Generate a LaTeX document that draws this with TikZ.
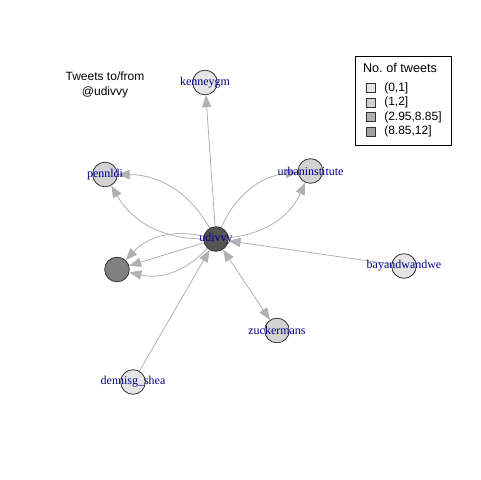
\documentclass[tikz,border=0pt]{standalone}
\usepackage{fontspec}
\setmainfont{Liberation Sans}
\newfontfamily\labfont{Liberation Serif}
\usetikzlibrary{arrows.meta}
\pgfdeclarelayer{bg}
\pgfsetlayers{bg,main}
\definecolor{cA}{HTML}{E5E5E5}
\definecolor{cB}{HTML}{D3D3D3}
\definecolor{cC}{HTML}{808080}
\definecolor{cD}{HTML}{555555}
\definecolor{lA}{HTML}{E5E5E5}
\definecolor{lB}{HTML}{D0D0D0}
\definecolor{lC}{HTML}{B0B0B0}
\definecolor{lD}{HTML}{A0A0A0}
\definecolor{edgec}{HTML}{B0B0B0}
\definecolor{labc}{HTML}{00008B}
\begin{document}
\begin{tikzpicture}[x=0.75pt,y=-0.75pt,
  vtx/.style={circle, draw=black!80, line width=0.6pt, minimum size=18.5pt, inner sep=0pt},
  lab/.style={text=labc, font=\labfont\fontsize{9}{10}\selectfont, inner sep=0pt},
  tip/.style={-{Triangle[length=9pt,width=7pt]}},
  edgeln/.style={draw=edgec, line width=0.6pt, tip},
  sw/.style={rectangle, draw=black!80, line width=0.6pt, minimum size=6.75pt, inner sep=0pt},
  legtxt/.style={anchor=west, inner sep=0pt, font=\fontsize{9}{10}\selectfont}]
\useasboundingbox (0,0) rectangle (480,480);

% title
\node[align=center, font=\fontsize{9}{11.5}\selectfont, inner sep=0pt] (title) at (105,85) {Tweets to/from\\@udivvy};

% vertices
\node[vtx, fill=cD, label={[lab]center:udivvy}] (udivvy) at (216,239) {};
\node[vtx, fill=cA, label={[lab]center:kenneygm}] (kenneygm) at (205,82.5) {};
\node[vtx, fill=cB, label={[lab]center:pennldi}] (pennldi) at (105,174.5) {};
\node[vtx, fill=cB, label={[lab]center:urbaninstitute}] (urban) at (310.5,171) {};
\node[vtx, fill=cC] (unl) at (117,269.5) {};
\node[vtx, fill=cA, label={[lab]center:bayandwandwe}] (bay) at (404,266) {};
\node[vtx, fill=cB, label={[lab]center:zuckermans}] (zuck) at (277,330.5) {};
\node[vtx, fill=cA, label={[lab]center:dennisg\_shea}] (dennis) at (133,382) {};

% edges
\begin{pgfonlayer}{bg}
\draw[edgeln] (udivvy) -- (kenneygm);
\draw[edgeln] (udivvy) to[bend left=30] (pennldi);
\draw[edgeln] (udivvy) to[bend right=30] (pennldi);
\draw[edgeln] (udivvy) to[bend left=30] (urban);
\draw[edgeln] (udivvy) to[bend right=30] (urban);
\draw[edgeln] (udivvy) -- (unl);
\draw[edgeln] (udivvy) to[bend left=30] (unl);
\draw[edgeln] (udivvy) to[bend right=30] (unl);
\draw[edgeln] (bay) -- (udivvy);
\draw[edgeln] (dennis) -- (udivvy);
\draw[draw=edgec, line width=0.6pt, {Triangle[length=9pt,width=7pt]}-{Triangle[length=9pt,width=7pt]}] (udivvy) -- (zuck);
\end{pgfonlayer}

% legend
\node[draw=black, line width=0.6pt, rectangle, minimum width=72pt, minimum height=66.75pt, inner sep=0pt] (legend) at (403,100.5) {};
\node[inner sep=0pt, font=\fontsize{9.5}{11}\selectfont] (legtitle) at (400,68) {No.\ of tweets};
\node[sw, fill=lA] (s1) at (371,88) {};
\node[sw, fill=lB] (s2) at (371,102.5) {};
\node[sw, fill=lC] (s3) at (371,117) {};
\node[sw, fill=lD] (s4) at (371,131.5) {};
\node[legtxt] (t1) at (384,88) {(0,1]};
\node[legtxt] (t2) at (384,102.5) {(1,2]};
\node[legtxt] (t3) at (384,117) {(2.95,8.85]};
\node[legtxt] (t4) at (384,131.5) {(8.85,12]};
\end{tikzpicture}
\end{document}
